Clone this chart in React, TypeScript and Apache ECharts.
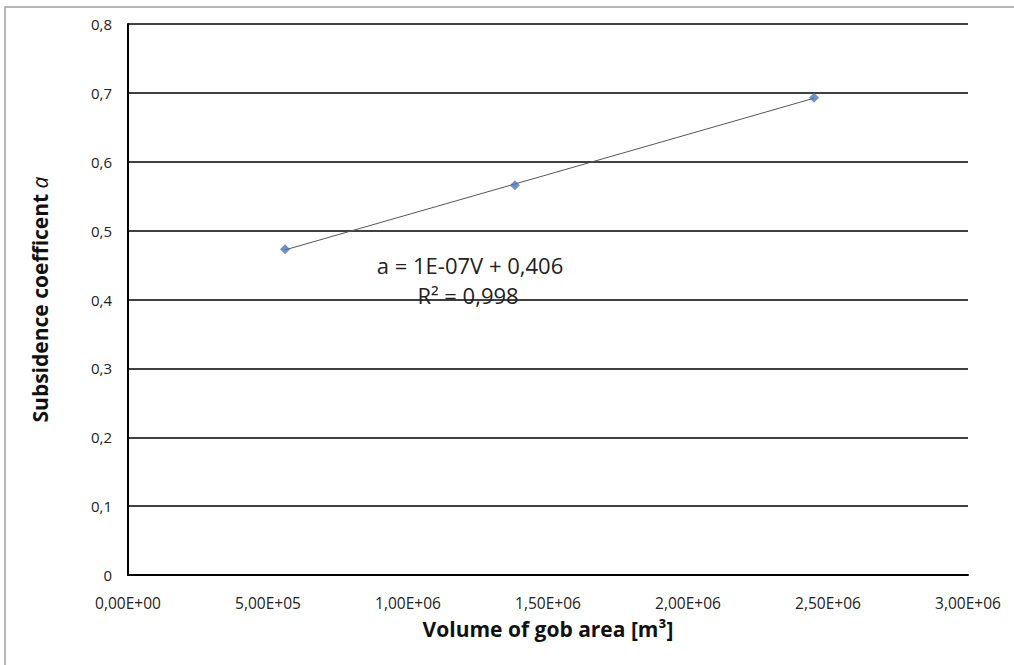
import React, { useEffect, useRef } from "react";
import * as echarts from "echarts";

const volumes = [5.61e5, 1.382e6, 2.45e6];
const coefficients = [0.473, 0.566, 0.693];
const xTicks = [0, 5e5, 1e6, 1.5e6, 2e6, 2.5e6, 3e6];
const yTicks = [0, 0.1, 0.2, 0.3, 0.4, 0.5, 0.6, 0.7, 0.8];
const equationText = "a = 1E-07V + 0,406";
const r2Text = "R² = 0,998";

function fitLine(xs: number[], ys: number[]) {
  const n = xs.length;
  const mx = xs.reduce((a, b) => a + b, 0) / n;
  const my = ys.reduce((a, b) => a + b, 0) / n;
  let sxy = 0, sxx = 0;
  for (let i = 0; i < n; i++) {
    sxy += (xs[i] - mx) * (ys[i] - my);
    sxx += (xs[i] - mx) * (xs[i] - mx);
  }
  const k = sxy / sxx;
  return { k, b: my - k * mx };
}

function fmtX(v: number) {
  const s = v.toExponential(2).toUpperCase().replace(".", ",");
  const m = s.match(/^([\d,]+)E([+-])(\d+)$/);
  if (!m) return s;
  return `${m[1]}E${m[2]}${m[3].padStart(2, "0")}`;
}

export default function App() {
  const ref = useRef<HTMLDivElement>(null);
  useEffect(() => {
    if (!ref.current) return;
    const chart = echarts.init(ref.current, null, { renderer: "svg" });
    const { k, b } = fitLine(volumes, coefficients);
    const x0 = Math.min(...volumes);
    const x1 = Math.max(...volumes);
    const font = "Open Sans";
    chart.setOption({
      animation: false,
      backgroundColor: "#ffffff",
      textStyle: { fontFamily: font },
      grid: { left: 128, right: 46, top: 24, bottom: 90 },
      xAxis: {
        type: "value",
        min: xTicks[0],
        max: xTicks[xTicks.length - 1],
        interval: xTicks[1] - xTicks[0],
        axisLine: { show: true, lineStyle: { color: "#000", width: 2 } },
        axisTick: { show: false },
        splitLine: { show: false },
        axisLabel: {
          color: "#222",
          fontSize: 15.5,
          margin: 20,
          fontFamily: font,
          formatter: (v: number) => fmtX(v),
        },
        name: "Volume of gob area [m³]",
        nameLocation: "middle",
        nameGap: 43,
        nameTextStyle: { color: "#111", fontSize: 21, fontWeight: "bold", fontFamily: font },
      },
      yAxis: {
        type: "value",
        min: yTicks[0],
        max: yTicks[yTicks.length - 1],
        interval: 0.1,
        axisLine: { show: true, lineStyle: { color: "#000", width: 2 } },
        axisTick: { show: false },
        splitLine: { show: true, lineStyle: { color: "#000", width: 1.5 } },
        axisLabel: {
          color: "#222",
          fontSize: 15,
          margin: 16,
          fontFamily: font,
          formatter: (v: number) => (v === 0 ? "0" : v.toFixed(1).replace(".", ",")),
        },
        name: "Subsidence coefficent {i|a}",
        nameLocation: "middle",
        nameGap: 78,
        nameTextStyle: {
          color: "#111",
          fontSize: 21,
          fontWeight: "bold",
          fontFamily: font,
          rich: {
            i: { fontStyle: "italic", fontWeight: "normal", fontSize: 21, fontFamily: font, color: "#111" },
          },
        },
      },
      series: [
        {
          type: "line",
          data: [
            [x0, k * x0 + b],
            [x1, k * x1 + b],
          ],
          showSymbol: false,
          symbol: "none",
          lineStyle: { color: "#555", width: 1 },
          z: 2,
        },
        {
          type: "scatter",
          data: volumes.map((v, i) => [v, coefficients[i]]),
          symbol: "diamond",
          symbolSize: 10,
          itemStyle: { color: "#4a74b8" },
          z: 3,
        },
      ],
      graphic: [
        {
          type: "rect",
          shape: { x: 5, y: 7, width: 1100, height: 800 },
          style: { fill: "none", stroke: "#a0a0a0", lineWidth: 1.5 },
          silent: true,
          z: 100,
        },
        {
          type: "text",
          x: 470,
          y: 265,
          style: {
            text: equationText,
            fontSize: 22,
            fontFamily: font,
            fill: "#222",
            textAlign: "center",
            textVerticalAlign: "middle",
          },
          z: 50,
        },
        {
          type: "text",
          x: 468,
          y: 295,
          style: {
            text: r2Text,
            fontSize: 22,
            fontFamily: font,
            fill: "#222",
            textAlign: "center",
            textVerticalAlign: "middle",
          },
          z: 50,
        },
      ],
    });
    return () => chart.dispose();
  }, []);
  return (
    <div
      ref={ref}
      style={{ position: "absolute", left: 0, top: 0, width: 1014, height: 665 }}
    />
  );
}
